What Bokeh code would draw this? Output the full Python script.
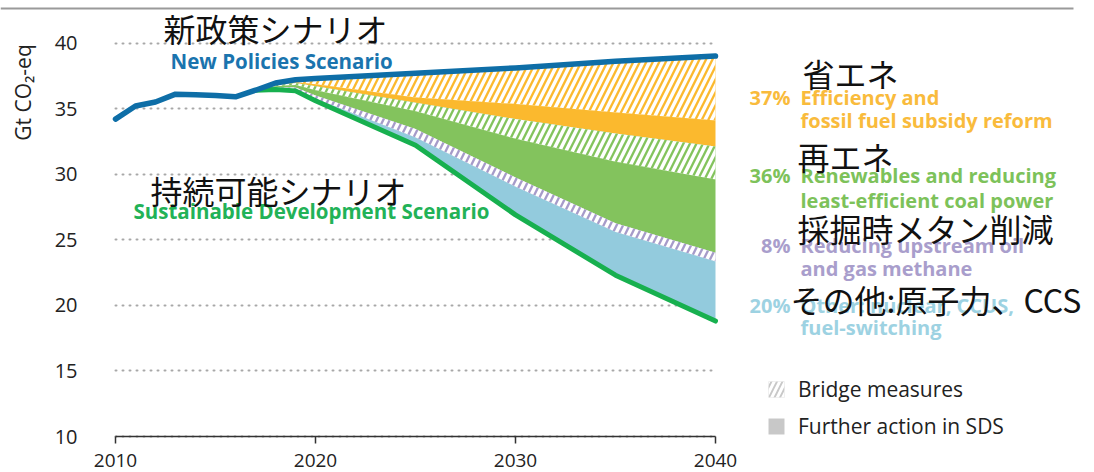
import math
from bokeh.plotting import figure
from bokeh.models import (Label, Legend, LegendItem, FixedTicker, Range1d, Arrow,
                          LinearAxis, Grid)
from bokeh.embed import file_html
from bokeh.resources import INLINE

# ---------------- data ----------------
nps_years = [2010, 2011, 2012, 2013, 2014, 2015, 2016, 2017, 2018, 2019, 2020,
             2025, 2030, 2035, 2040]
nps_values = [34.2, 35.2, 35.5, 36.1, 36.05, 36.0, 35.9, 36.4, 36.95, 37.2, 37.3,
              37.7, 38.1, 38.6, 39.0]

wedge_years = [2017, 2018, 2019, 2020, 2025, 2030, 2035, 2040]
eff_bridge_bottom = [36.4, 36.8, 37.0, 36.85, 35.85, 35.35, 34.7, 34.1]
eff_further_bottom = [36.4, 36.78, 36.95, 36.7, 35.45, 34.2, 33.1, 32.1]
ren_bridge_bottom = [36.4, 36.7, 36.8, 36.4, 34.8, 32.7, 30.95, 29.6]
ren_further_bottom = [36.4, 36.6, 36.6, 36.0, 33.45, 29.75, 26.25, 24.0]
methane_bridge_bottom = [36.4, 36.5, 36.45, 35.75, 32.8, 29.05, 25.6, 23.35]
sds_values = [36.4, 36.45, 36.35, 35.6, 32.2, 26.9, 22.3, 18.8]

x_ticks = [2010, 2020, 2030, 2040]
y_ticks = [10, 15, 20, 25, 30, 35, 40]

# ---------------- layout (page pixels) ----------------
W, H = 1094, 472
PX_2010, PX_PER_YEAR = 115, 20.0          # where 2010 sits, px per year
PY_10, PY_PER_UNIT = 436, 393.5 / 30      # where 10 Gt sits, px per Gt
X_START = x_ticks[0] - PX_2010 / PX_PER_YEAR
X_END = x_ticks[0] + (W - PX_2010) / PX_PER_YEAR
Y_START = y_ticks[0] - (H - PY_10) / PY_PER_UNIT
Y_END = y_ticks[0] + PY_10 / PY_PER_UNIT


def dx(px):
    return x_ticks[0] + (px - PX_2010) / PX_PER_YEAR


def dy(py):
    return y_ticks[0] + (PY_10 - py) / PY_PER_UNIT


ORANGE = "#FBB92E"
GREEN = "#83C35D"
PURPLE = "#A69BC9"
LBLUE = "#93CBDD"
NPS_BLUE = "#0E6EA7"
SDS_GREEN = "#17B04F"
FONT = "Open Sans"
JP = "Noto Sans CJK JP"

p = figure(width=W, height=H, output_backend="svg", toolbar_location=None,
           x_range=Range1d(X_START, X_END), y_range=Range1d(Y_START, Y_END),
           x_axis_location=None, y_axis_location=None,
           min_border_left=0, min_border_right=0, min_border_top=0,
           min_border_bottom=0)
p.outline_line_color = None
p.background_fill_color = "white"
p.border_fill_color = "white"
for g in p.grid:
    g.visible = False

# dotted horizontal grid, limited to the data period
grid = Grid(dimension=1, ticker=FixedTicker(ticks=y_ticks),
            cross_bounds=(x_ticks[0], x_ticks[-1]),
            grid_line_color="#a8a8a8", grid_line_width=2, grid_line_dash="1 6",
            grid_line_cap="round")
p.add_layout(grid)

# axes placed inside the frame
xaxis = LinearAxis(fixed_location=y_ticks[0], bounds=(x_ticks[0], x_ticks[-1]),
                   ticker=FixedTicker(ticks=x_ticks))
xaxis.axis_line_color = "#333333"
xaxis.axis_line_width = 1.5
xaxis.major_tick_line_color = "#333333"
xaxis.major_tick_line_width = 1.5
xaxis.major_tick_out = 7
xaxis.major_tick_in = 0
xaxis.minor_tick_line_color = None
xaxis.major_label_standoff = 10
xaxis.major_label_text_font = FONT
xaxis.major_label_text_font_size = "19px"
xaxis.major_label_text_color = "#222222"
p.add_layout(xaxis, "below")

yaxis = LinearAxis(fixed_location=x_ticks[0], ticker=FixedTicker(ticks=y_ticks))
yaxis.axis_line_color = None
yaxis.major_tick_line_color = None
yaxis.minor_tick_line_color = None
yaxis.major_label_standoff = 32
yaxis.major_label_text_font = FONT
yaxis.major_label_text_font_size = "20px"
yaxis.major_label_text_color = "#222222"
p.add_layout(yaxis, "left")

# wedges
nps_lookup = dict(zip(nps_years, nps_values))
nps_top = [nps_lookup[y] for y in wedge_years]
layers = [
    (nps_top, eff_bridge_bottom, ORANGE, True),
    (eff_bridge_bottom, eff_further_bottom, ORANGE, False),
    (eff_further_bottom, ren_bridge_bottom, GREEN, True),
    (ren_bridge_bottom, ren_further_bottom, GREEN, False),
    (ren_further_bottom, methane_bridge_bottom, PURPLE, True),
    (methane_bridge_bottom, sds_values, LBLUE, False),
]
for top, bot, col, hatched in layers:
    kw = dict(fill_color=col)
    if hatched:
        kw.update(hatch_pattern="right_diagonal_line", hatch_color="white",
                  hatch_weight=3.5, hatch_scale=13)
    p.varea(x=wedge_years, y1=bot, y2=top, **kw)

p.line(wedge_years, sds_values, line_color=SDS_GREEN, line_width=5,
       line_cap="round", line_join="round")
p.line(nps_years, nps_values, line_color=NPS_BLUE, line_width=5.5,
       line_cap="round", line_join="round")

# legend (proxy renderers with no visible data)
nan = float("nan")
r_bridge = p.quad(left=[nan], right=[nan], top=[nan], bottom=[nan],
                  fill_color="#c8c8c8", line_color=None,
                  hatch_pattern="right_diagonal_line", hatch_color="white",
                  hatch_weight=3, hatch_scale=11)
r_further = p.quad(left=[nan], right=[nan], top=[nan], bottom=[nan],
                   fill_color="#c8c8c8", line_color=None)
legend = Legend(items=[LegendItem(label="Bridge measures", renderers=[r_bridge]),
                       LegendItem(label="Further action in SDS", renderers=[r_further])],
                location=(766, 32), margin=0, padding=0, spacing=9,
                glyph_width=20, glyph_height=20, label_height=26,
                label_standoff=12, border_line_color=None,
                background_fill_alpha=0, label_text_font=FONT,
                label_text_font_size="21px", label_text_color="#222222")
p.add_layout(legend)


def add_text(px, py, text, color, size, font=FONT, bold=False,
             align="left", angle=0.0):
    p.add_layout(Label(x=dx(px), y=dy(py), text=text, text_color=color,
                       text_font=font, text_font_size=f"{size}px",
                       text_font_style="bold" if bold else "normal",
                       text_align=align, text_baseline="middle", angle=angle))


# left annotations
add_text(170, 60, "New Policies Scenario", "#1A74AE", 20.5, bold=True)
add_text(133, 210, "Sustainable Development Scenario", "#22B257", 20.5, bold=True)
add_text(163, 27, "新政策シナリオ", "#111111", 32, JP)
add_text(150, 189, "持続可能シナリオ", "#111111", 32, JP)

# right annotations
C_OR, C_GR, C_PU, C_LB = "#F9BB3C", "#7DC25A", "#A99ECC", "#9DD2E2"
BS = 20
add_text(790, 97, "37%", C_OR, BS, bold=True, align="right")
add_text(800, 97, "Efficiency and", C_OR, BS, bold=True)
add_text(800, 120, "fossil fuel subsidy reform", C_OR, BS, bold=True)
add_text(790, 175, "36%", C_GR, BS, bold=True, align="right")
add_text(800, 175, "Renewables and reducing", C_GR, BS, bold=True)
add_text(800, 200, "least-efficient coal power", C_GR, BS, bold=True)
add_text(790, 245, "8%", C_PU, BS, bold=True, align="right")
add_text(800, 245, "Reducing upstream oil", C_PU, BS, bold=True)
add_text(800, 268, "and gas methane", C_PU, BS, bold=True)
add_text(790, 305, "20%", C_LB, BS, bold=True, align="right")
add_text(800, 305, "Other: nuclear, CCUS,", C_LB, BS, bold=True)
add_text(800, 327, "fuel-switching", C_LB, BS, bold=True)

add_text(802, 72, "省エネ", "#111111", 32, JP)
add_text(797, 155, "再エネ", "#111111", 32, JP)
add_text(797, 227, "採掘時メタン削減", "#111111", 32, JP)
add_text(790, 298, "その他:原子力、CCS", "#111111", 32, JP)

# y axis title
add_text(22, 92, "Gt CO₂-eq", "#222222", 21, align="center", angle=math.pi / 2)

# top rule
p.add_layout(Arrow(end=None, x_start=dx(0), y_start=dy(8), x_end=dx(1073),
                   y_end=dy(8), line_color="#9a9a9a", line_width=2))

open("out.html", "w").write(file_html(p, INLINE))
